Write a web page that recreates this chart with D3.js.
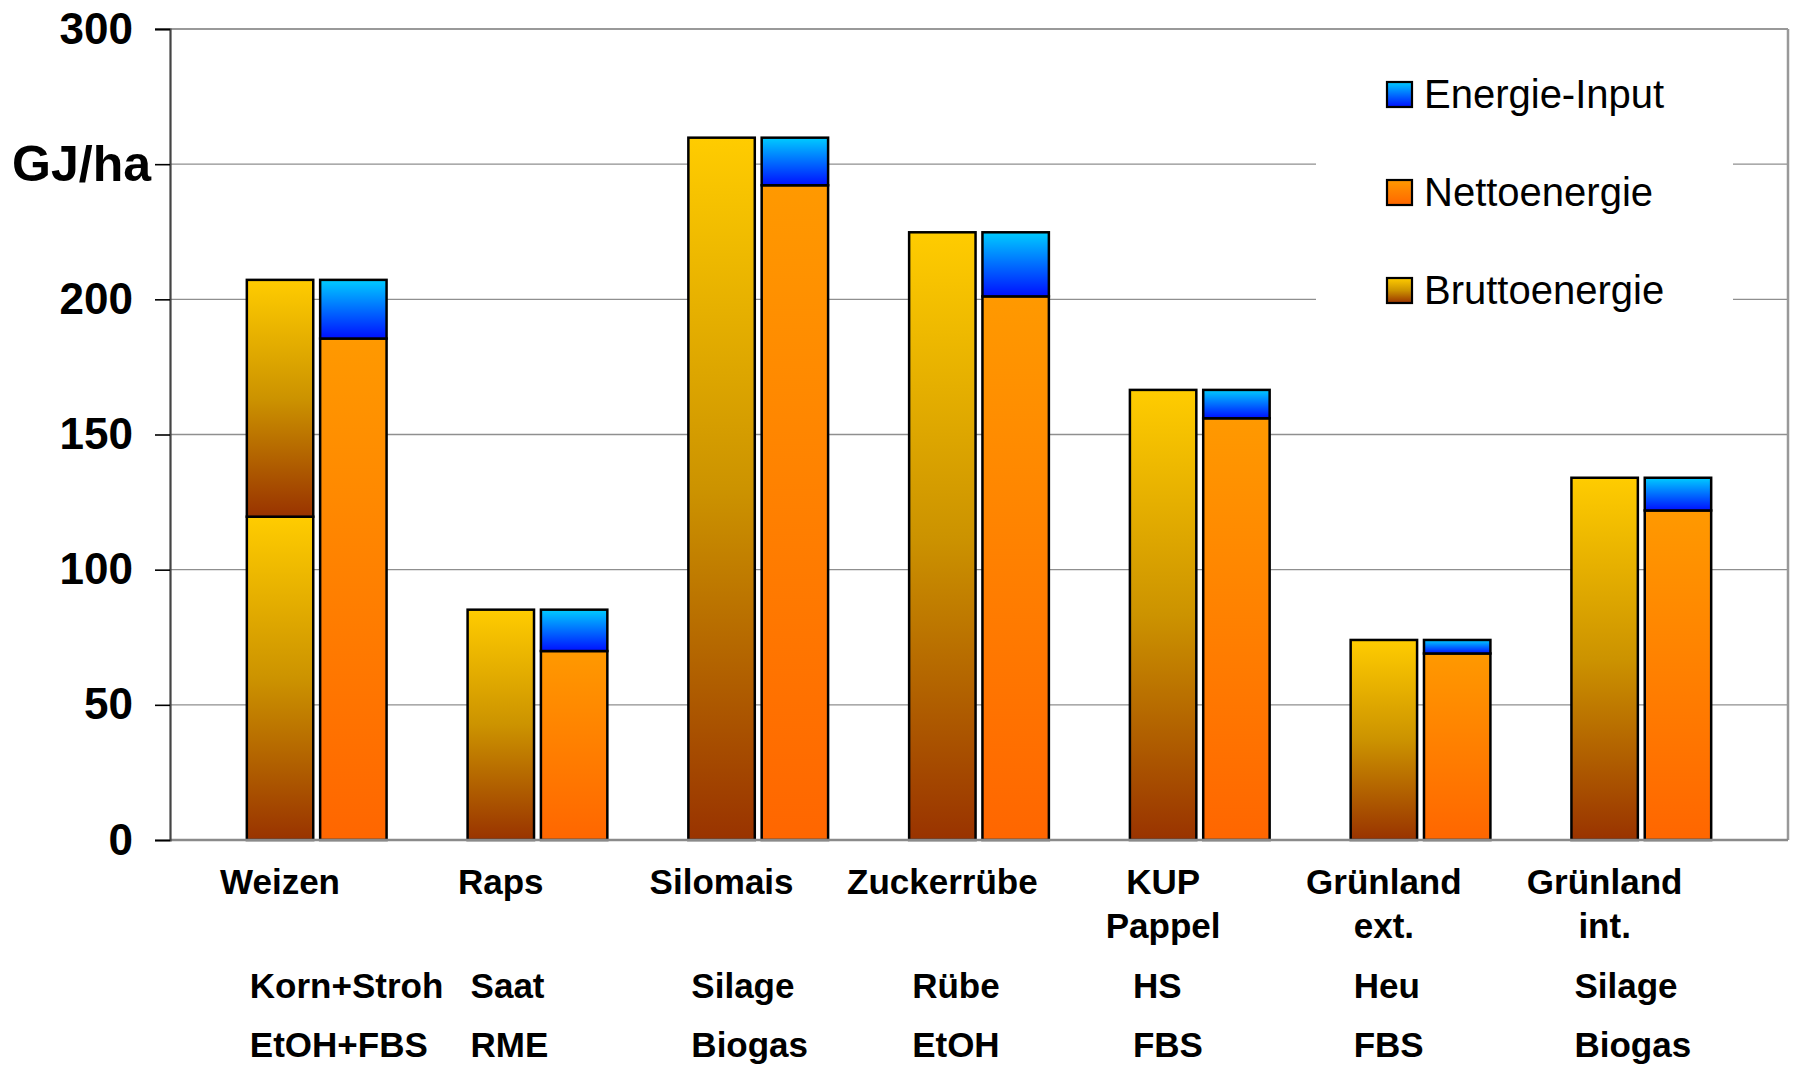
<!DOCTYPE html>
<html>
<head>
<meta charset="utf-8">
<script src="https://cdn.jsdelivr.net/npm/d3@7"></script>
<style>
  html, body { margin: 0; padding: 0; background: #fff; }
  svg { display: block; font-family: "Liberation Sans", Arial, Helvetica, sans-serif; }
</style>
</head>
<body>
<svg id="chart" width="1797" height="1065"></svg>
<script>
// ---------------- data ----------------
const categories = ["Weizen", "Raps", "Silomais", "Zuckerrübe", "KUP Pappel", "Grünland ext.", "Grünland int."];
const labelLine1 = ["Weizen", "Raps", "Silomais", "Zuckerrübe", "KUP", "Grünland", "Grünland"];
const labelLine2 = ["", "", "", "", "Pappel", "ext.", "int."];
const productLabels = ["Korn+Stroh", "Saat", "Silage", "Rübe", "HS", "Heu", "Silage"];
const conversionLabels = ["EtOH+FBS", "RME", "Biogas", "EtOH", "FBS", "FBS", "Biogas"];

// Bruttoenergie (GJ/ha); Weizen split into Korn (part 1) and Stroh (part 2)
const bruttoPart1 = [119.6, 85.2, 259.8, 224.8, 166.5, 74.0, 134.0];
const bruttoPart2 = [87.6, 0, 0, 0, 0, 0, 0];
// Nettoenergie and Energie-Input (GJ/ha)
const nettoEnergie = [185.5, 69.9, 242.2, 201.1, 156.0, 69.0, 121.9];
const energieInput = [21.7, 15.3, 17.6, 23.7, 10.5, 5.0, 12.1];

const yTicks = [0, 50, 100, 150, 200, 250, 300];
const yUnitLabel = "GJ/ha";
const unitTick = 250;
const legendLabels = ["Energie-Input", "Nettoenergie", "Bruttoenergie"];

// ---------------- layout ----------------
const plot = { left: 170, right: 1788, top: 29, bottom: 840 };
const svg = d3.select("#chart");
const defs = svg.append("defs");

function gradient(id, stops) {
  const g = defs.append("linearGradient").attr("id", id)
    .attr("x1", 0).attr("y1", 0).attr("x2", 0).attr("y2", 1);
  stops.forEach(([o, c]) => g.append("stop").attr("offset", o).attr("stop-color", c));
}
gradient("gBrutto", [[0, "#FFCC00"], [0.5, "#CC9300"], [1, "#993300"]]);
gradient("gNetto", [[0, "#FF9900"], [1, "#FF6600"]]);
gradient("gInput", [[0, "#00CCFF"], [1, "#0010FF"]]);

const x = d3.scaleBand().domain(categories)
  .range([plot.left, plot.right]).paddingInner(0.367).paddingOuter(0.348);
const xSub = d3.scaleBand().domain(["brutto", "netto"])
  .range([0, x.bandwidth()]).paddingInner(0.094).paddingOuter(0);
const y = d3.scaleLinear().domain([0, 300]).range([plot.bottom, plot.top]);

// gridlines
svg.append("g").selectAll("line").data(yTicks.filter(t => t > 0 && t < 300)).join("line")
  .attr("x1", plot.left).attr("x2", plot.right)
  .attr("y1", d => y(d)).attr("y2", d => y(d))
  .attr("stroke", "#8f8f8f").attr("stroke-width", 1.3);

// top and right border
svg.append("line").attr("x1", plot.left - 15).attr("x2", plot.right)
  .attr("y1", y(300)).attr("y2", y(300)).attr("stroke", "#999").attr("stroke-width", 2);
svg.append("line").attr("x1", plot.right).attr("x2", plot.right)
  .attr("y1", y(300)).attr("y2", y(0)).attr("stroke", "#999").attr("stroke-width", 2.5);

// legend background (covers gridlines)
svg.append("rect").attr("x", 1316).attr("y", 50).attr("width", 417).attr("height", 280).attr("fill", "#fff");

// ---------------- bars ----------------
const rows = categories.map((c, i) => ({
  cat: c, b1: bruttoPart1[i], b2: bruttoPart2[i], netto: nettoEnergie[i], input: energieInput[i]
}));

const bruttoStack = d3.stack().keys(["b1", "b2"])(rows);
const nettoStack = d3.stack().keys(["netto", "input"])(rows);

const barG = svg.append("g");
const bw = xSub.bandwidth();

bruttoStack.forEach(layer => {
  barG.append("g").selectAll("rect").data(layer.filter(d => d[1] - d[0] > 0)).join("rect")
    .attr("x", d => x(d.data.cat) + xSub("brutto"))
    .attr("y", d => y(d[1]))
    .attr("width", bw)
    .attr("height", d => y(d[0]) - y(d[1]))
    .attr("fill", "url(#gBrutto)")
    .attr("stroke", "#000").attr("stroke-width", 2.5);
});
nettoStack.forEach(layer => {
  const fill = layer.key === "netto" ? "url(#gNetto)" : "url(#gInput)";
  barG.append("g").selectAll("rect").data(layer.filter(d => d[1] - d[0] > 0)).join("rect")
    .attr("x", d => x(d.data.cat) + xSub("netto"))
    .attr("y", d => y(d[1]))
    .attr("width", bw)
    .attr("height", d => y(d[0]) - y(d[1]))
    .attr("fill", fill)
    .attr("stroke", "#000").attr("stroke-width", 2.5);
});

// bottom axis line
svg.append("line").attr("x1", plot.left).attr("x2", plot.right)
  .attr("y1", y(0)).attr("y2", y(0)).attr("stroke", "#8a8a8a").attr("stroke-width", 2.5);

// ---------------- y axis ----------------
const yAxis = d3.axisLeft(y).tickValues(yTicks).tickSize(15).tickPadding(22)
  .tickFormat(d => d === unitTick ? yUnitLabel : d);
const ya = svg.append("g").attr("transform", `translate(${plot.left},0)`).call(yAxis);
ya.select(".domain").attr("stroke", "#444").attr("stroke-width", 2.2);
ya.selectAll(".tick line").attr("stroke", "#000").attr("stroke-width", 1.6);
ya.selectAll(".tick text").attr("font-family", "'Liberation Sans', Arial, sans-serif")
  .attr("font-weight", "bold").attr("font-size", 44).attr("fill", "#000");
ya.selectAll(".tick").filter(d => d === unitTick).select("text")
  .attr("font-size", 50).attr("x", -19);

// ---------------- x labels ----------------
const lab = svg.append("g").attr("font-weight", "bold").attr("font-size", 35).attr("fill", "#000");
const cx = i => x(categories[i]) + xSub("brutto") + bw / 2;
const lx = i => x(categories[i]) + xSub("brutto") + 3;
categories.forEach((c, i) => {
  lab.append("text").attr("x", cx(i)).attr("y", 894).attr("text-anchor", "middle").text(labelLine1[i]);
  if (labelLine2[i]) lab.append("text").attr("x", cx(i)).attr("y", 938).attr("text-anchor", "middle").text(labelLine2[i]);
  lab.append("text").attr("x", lx(i)).attr("y", 998).text(productLabels[i]);
  lab.append("text").attr("x", lx(i)).attr("y", 1057).text(conversionLabels[i]);
});

// ---------------- legend ----------------
const legFills = ["url(#gInput)", "url(#gNetto)", "url(#gBrutto)"];
const leg = svg.append("g");
legendLabels.forEach((t, i) => {
  const top = 82 + i * 98;
  leg.append("rect").attr("x", 1387).attr("y", top).attr("width", 25).attr("height", 25)
    .attr("fill", legFills[i]).attr("stroke", "#000").attr("stroke-width", 2.2);
  leg.append("text").attr("x", 1424).attr("y", top + 26).attr("font-size", 40).attr("fill", "#000").text(t);
});
</script>
</body>
</html>
